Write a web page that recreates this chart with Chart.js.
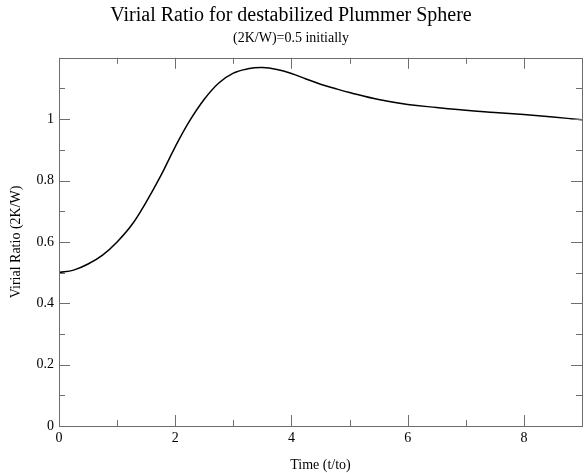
<!DOCTYPE html>
<html>
<head>
<meta charset="utf-8">
<script src="https://cdn.jsdelivr.net/npm/chart.js@4/dist/chart.umd.min.js"></script>
<style>
  html, body { margin: 0; padding: 0; background: #fff; }
  #wrap { width: 584px; height: 473px; }
</style>
</head>
<body>
<div id="wrap"><canvas id="virial-chart" width="584" height="473"></canvas></div>
<script>
// time (t/to) and virial ratio 2K/W
const times = [0, 0.25, 0.5, 0.75, 1.0, 1.25, 1.5, 1.75, 2.0, 2.25, 2.5, 2.75, 3.0, 3.25, 3.5, 3.75, 4.0, 4.25, 4.5, 4.75, 5.0, 5.5, 6.0, 6.5, 7.0, 7.5, 8.0, 8.5, 9.0];
const ratios = [0.500, 0.508, 0.528, 0.557, 0.600, 0.655, 0.730, 0.815, 0.910, 0.995, 1.065, 1.118, 1.150, 1.164, 1.168, 1.162, 1.149, 1.131, 1.114, 1.100, 1.087, 1.064, 1.048, 1.038, 1.029, 1.022, 1.015, 1.007, 0.998];

// tick marks (labelled majors + unlabelled minors)
const xMajor = [0, 2, 4, 6, 8];
const xMinor = [1, 3, 5, 7];
const yMajor = [0, 0.2, 0.4, 0.6, 0.8, 1.0, 1.2];
const yMinor = [0.1, 0.3, 0.5, 0.7, 0.9, 1.1];

const serif = "'Liberation Serif', 'DejaVu Serif', serif";

// frame with inward ticks on all four sides
const frame = {
    id: "frame",
    afterDatasetsDraw(chart) {
        const c = chart.ctx, a = chart.chartArea;
        const xs = chart.scales.x, ys = chart.scales.y;
        c.save();
        c.strokeStyle = "#6e6e6e";
        c.lineWidth = 1;
        c.beginPath();
        const mark = (vals, len, horiz) => {
            vals.forEach(v => {
                if (horiz) {
                    const px = Math.round(xs.getPixelForValue(v)) + 0.5;
                    c.moveTo(px, a.bottom); c.lineTo(px, a.bottom - len);
                    c.moveTo(px, a.top); c.lineTo(px, a.top + len);
                } else {
                    const py = Math.round(ys.getPixelForValue(v)) + 0.5;
                    c.moveTo(a.left, py); c.lineTo(a.left + len, py);
                    c.moveTo(a.right, py); c.lineTo(a.right - len, py);
                }
            });
        };
        mark(xMajor, 11, true);
        mark(xMinor, 6, true);
        mark(yMajor, 11, false);
        mark(yMinor, 6, false);
        c.stroke();
        c.strokeRect(Math.round(a.left) + 0.5, Math.round(a.top) + 0.5, Math.round(a.right - a.left), Math.round(a.bottom - a.top));
        c.restore();
    }
};

new Chart(document.getElementById("virial-chart"), {
    type: "line",
    data: {
        datasets: [{
            data: times.map((t, i) => ({ x: t, y: ratios[i] })),
            borderColor: "#000",
            borderWidth: 1.5,
            pointRadius: 0,
            tension: 0.4,
            fill: false
        }]
    },
    options: {
        responsive: false,
        animation: false,
        layout: { padding: { left: 0, right: 2, top: 0, bottom: 0 } },
        plugins: {
            legend: { display: false },
            tooltip: { enabled: false },
            title: {
                display: true,
                text: "Virial Ratio for destabilized Plummer Sphere",
                color: "#000",
                font: { family: serif, size: 20, weight: "normal" },
                padding: { top: 4, bottom: 2 }
            },
            subtitle: {
                display: true,
                text: "(2K/W)=0.5 initially",
                color: "#000",
                font: { family: serif, size: 14, weight: "normal" },
                padding: { top: 0, bottom: 11 }
            }
        },
        scales: {
            x: {
                type: "linear",
                min: 0,
                max: 9,
                grid: { display: false, drawTicks: false },
                border: { display: false },
                ticks: {
                    stepSize: 2,
                    includeBounds: false,
                    padding: 4,
                    color: "#000",
                    font: { family: serif, size: 14 },
                    maxRotation: 0
                },
                title: {
                    display: true,
                    text: "Time (t/to)",
                    color: "#000",
                    font: { family: serif, size: 14 },
                    padding: { top: 0, bottom: -1 }
                },
                afterFit(scale) { scale.height = 47; }
            },
            y: {
                min: 0,
                max: 1.2,
                grid: { display: false, drawTicks: false },
                border: { display: false },
                ticks: {
                    stepSize: 0.2,
                    padding: 5,
                    color: "#000",
                    font: { family: serif, size: 14 },
                    callback: v => v > 1.1 ? "" : String(+v.toFixed(1))
                },
                title: {
                    display: true,
                    text: "Virial Ratio (2K/W)",
                    color: "#000",
                    font: { family: serif, size: 14 },
                    padding: { top: 8, bottom: 0 }
                },
                afterFit(scale) { scale.width = 59; }
            }
        }
    },
    plugins: [frame]
});
</script>
</body>
</html>
